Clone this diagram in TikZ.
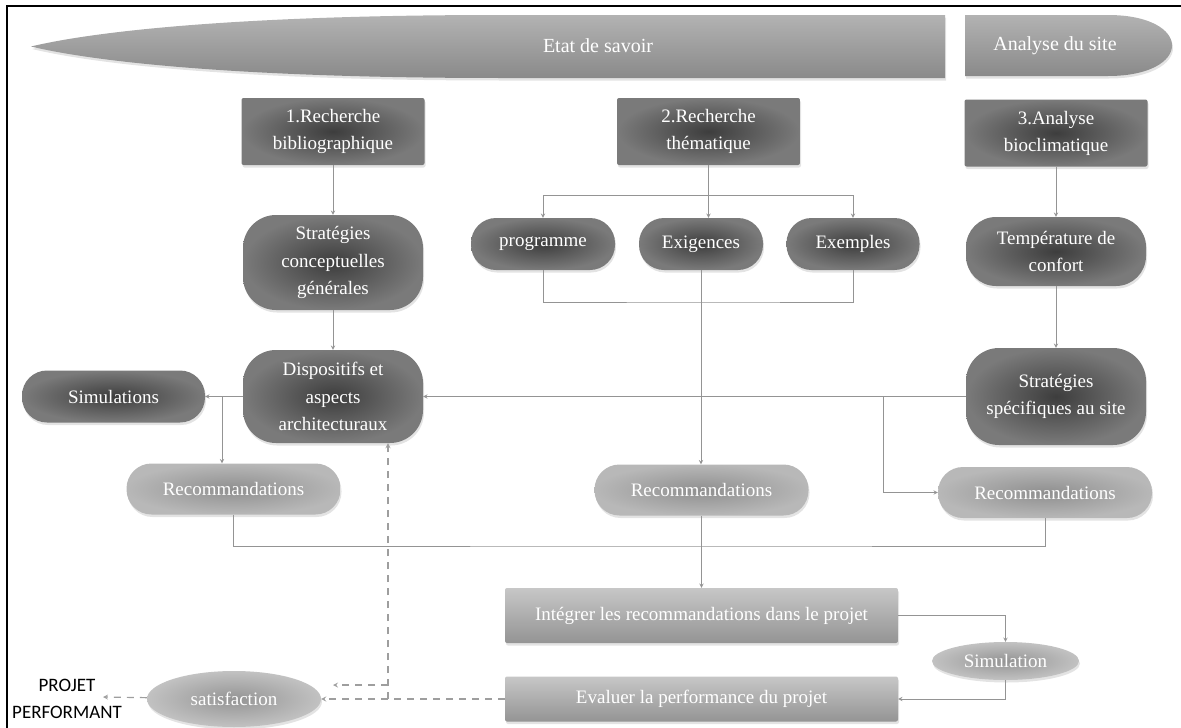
\documentclass[tikz,border=0pt]{standalone}
\usepackage{fontspec}
\setmainfont{Liberation Serif}
\newfontfamily\calibri{Carlito}
\usetikzlibrary{shapes,arrows,shadows}
\tikzstyle{soft} = [drop shadow={opacity=0.22, shadow xshift=1pt, shadow yshift=-2.5pt}]
\tikzstyle{banner} = [top color=black!30, bottom color=black!46, soft]
\tikzstyle{bannertext} = [text=white, font=\fontsize{20}{24}\selectfont]
\tikzstyle{headbox} = [rectangle, rounded corners=2pt, minimum width=183pt, minimum height=67pt, inner sep=2pt, align=center, inner color=black!76, outer color=black!52, text=white, font=\fontsize{19}{27}\selectfont, soft]
\tikzstyle{pill} = [rectangle, rounded corners=25pt, minimum height=52pt, inner sep=2pt, align=center, inner color=black!76, outer color=black!52, text=white, font=\fontsize{19}{27.5}\selectfont, soft]
\tikzstyle{bigpill} = [pill, rounded corners=33pt, minimum width=180pt]
\tikzstyle{recom} = [pill, minimum width=214pt, minimum height=51pt, inner color=black!44, outer color=black!28]
\tikzstyle{widebox} = [rectangle, rounded corners=2pt, minimum width=393pt, inner sep=2pt, top color=black!22, bottom color=black!42, text=white, font=\fontsize{19}{27}\selectfont, soft]
\tikzstyle{oval} = [ellipse, inner sep=0pt, inner color=black!42, outer color=black!24, text=white, font=\fontsize{19}{27}\selectfont, soft]
\tikzstyle{arrow} = [draw=black!42, line width=0.9pt, ->, >=stealth]
\tikzstyle{link} = [draw=black!42, line width=0.9pt]
\tikzstyle{dasharrow} = [draw=black!38, line width=1.2pt, dash pattern=on 7pt off 6pt, ->, >=stealth]

\begin{document}
\begin{tikzpicture}[x=1pt, y=-1pt, node distance=131pt]
\useasboundingbox (0,0) rectangle (1181,728);
\draw [line width=1.2pt] (7,740) -- (7,6) -- (1190,6);

% bandeaux
\path [banner] (945,15) -- (500,15) .. controls (250,15) and (100,30) .. (31,46.5) .. controls (100,63) and (250,78) .. (500,78) -- (945,78) -- cycle;
\path [banner] (965,15) -- (1108,15) .. controls (1150,15) and (1172,30) .. (1172,45.5) .. controls (1172,61) and (1150,76) .. (1108,76) -- (965,76) -- cycle;
\node (etat) [bannertext] at (598,46) {Etat de savoir};
\node (analyse) [bannertext] at (1055,46) {Analyse du site};

\node (biblio) [headbox] at (333,131.5) {1.Recherche\\bibliographique};
\node (stratGen) [bigpill, minimum height=95pt, below of=biblio] {Stratégies\\conceptuelles\\générales};
\node (dispo) [bigpill, minimum height=93pt, below of=stratGen, yshift=-3pt] {Dispositifs et\\aspects\\architecturaux};
\node (thema) [headbox, right of=biblio, xshift=244.5pt] {2.Recherche\\thématique};
\node (bioclim) [headbox, right of=thema, xshift=216.5pt, yshift=-1.5pt] {3.Analyse\\bioclimatique};
\node (exig) [pill, minimum width=124pt, below of=thema, xshift=-7.5pt, yshift=18.5pt] {Exigences};
\node (prog) [pill, minimum width=144pt, left of=exig, xshift=-27pt] {programme};
\node (exemp) [pill, minimum width=133pt, right of=exig, xshift=21pt] {Exemples};
\node (tempConf) [bigpill, minimum height=69pt, rounded corners=30pt, below of=bioclim, yshift=12.5pt] {Température de\\confort};
\node (stratSite) [bigpill, minimum height=97pt, below of=tempConf, yshift=-14pt] {Stratégies\\spécifiques au site};
\node (simuls) [pill, minimum width=183pt, left of=dispo, xshift=-88.5pt] {Simulations};
\node (recomA) [recom, below of=dispo, xshift=-99.5pt, yshift=38.5pt] {Recommandations};
\node (recomB) [recom, right of=recomA, xshift=337pt, yshift=-1pt] {Recommandations};
\node (recomC) [recom, below of=stratSite, xshift=-11pt, yshift=35pt] {Recommandations};
\node (integ) [widebox, minimum height=55pt, below of=recomB, yshift=5.5pt] {Intégrer les recommandations dans le projet};
\node (evalPerf) [widebox, minimum height=45pt, below of=integ, yshift=47.5pt] {Evaluer la performance du projet};
\node (simul) [oval, minimum width=147pt, minimum height=38pt, right of=integ, xshift=173pt, yshift=-45.5pt] {Simulation};
\node (satisf) [oval, minimum width=174pt, minimum height=56pt, left of=evalPerf, xshift=-336.5pt] {satisfaction};
\node (perf) [left of=satisf, xshift=-36pt, align=center, font=\calibri\fontsize{19}{27}\selectfont] {PROJET\\PERFORMANT};

\coordinate (split) at (708,195);
\coordinate (bracket) at (708,302);
\coordinate (tapA) at (222,396.5);
\coordinate (tapC) at (883,396.5);
\coordinate (merge) at (702,546);
\coordinate (retour) at (388,699);
\coordinate (retourHaut) at (388,685);
\coordinate (retourFin) at (333,685);
\coordinate (sortie) at (103,697);

\draw [arrow] (biblio) -- (stratGen);
\draw [arrow] (stratGen) -- (dispo);
\draw [arrow] (thema.south) -- (thema.south |- exig.north);
\draw [arrow] (split) -| (prog);
\draw [arrow] (split) -| (exemp);
\draw [link] (prog) |- (bracket) -| (exemp);
\draw [arrow] (exig) -- (exig |- recomB.north);
\draw [arrow] (bioclim) -- (tempConf);
\draw [arrow] (tempConf) -- (stratSite);
\draw [arrow] (stratSite) -- (dispo);
\draw [arrow] (tapC) |- (recomC);
\draw [arrow] (dispo) -- (simuls);
\draw [arrow] (tapA) -- (tapA |- recomA.north);
\draw [link] (recomA) |- (merge) -| (recomC);
\draw [arrow] (recomB) -- (integ);
\draw [arrow] (integ) -| (simul);
\draw [arrow] (simul) |- (evalPerf);

\draw [dasharrow] (evalPerf) -- (satisf);
\draw [dasharrow] (retour) -- (retour |- dispo.south);
\draw [dasharrow] (retourHaut) -- (retourFin);
\draw [dasharrow] (satisf) -- (sortie);

\end{tikzpicture}
\end{document}
